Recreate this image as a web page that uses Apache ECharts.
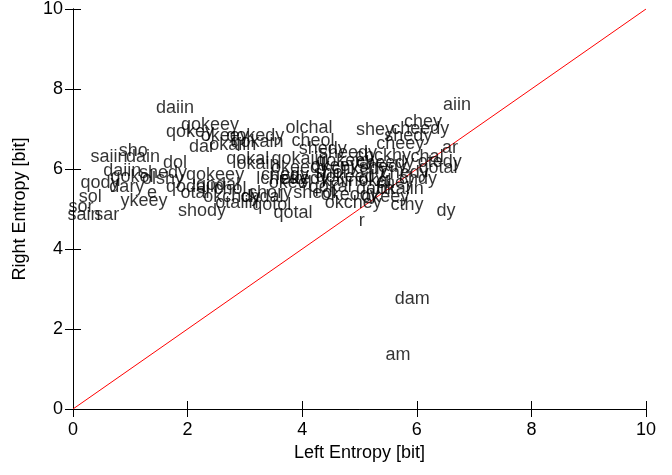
<!DOCTYPE html>
<html>
<head>
<meta charset="utf-8">
<script src="https://cdn.jsdelivr.net/npm/echarts@6/dist/echarts.min.js"></script>
<style>
  html, body { margin: 0; padding: 0; background: #fff; }
  #chart { width: 672px; height: 475px; }
</style>
</head>
<body>
<div id="chart"></div>
<script>
// words and their entropy values (left, right)
var words = ['daiin', 'sho', 'saiin', 'dain', 'dol', 'daiin', 'shedy', 'qokol', 'olshy', 'qody',
  'dary', 'sol', 'e', 'ykeey', 'sor', 'sain', 'sar', 'shody', 'qokeey', 'qokey',
  'okeey', 'qokedy', 'dar', 'okaiin', 'qokain', 'qokal', 'okain', 'qokeey', 'lchedy', 'qodaiin',
  'qodal', 'otal', 'chol', 'okchdy', 'chdal', 'otaiin', 'qotol', 'qotal', 'olchal', 'cheol',
  'shedy', 'sheedy', 'shey', 'qokaiin', 'okeedy', 'chedy', 'okedy', 'okeol', 'sheol', 'chory',
  'kaiin', 'qokeedy', 'okeody', 'okchey', 'chckhy', 'okeey', 'chkedy', 'qokeey', 'shedy', 'cheedy',
  'chedy', 'chdy', 'okaiin', 'okeey', 'daiin', 'cthy', 'dy', 'r', 'chey', 'cheedy',
  'shedy', 'cheey', 'ar', 'chal', 'otedy', 'qotal', 'aiin', 'dam', 'am', 'okal',
  'qokal', 'shol', 'chey', 'ol'];
var leftEntropy = [1.78, 1.05, 0.63, 1.22, 1.78, 0.86, 1.57, 1.03, 1.57, 0.47,
  0.94, 0.30, 1.38, 1.24, 0.14, 0.19, 0.59, 2.25, 2.39, 2.04,
  2.65, 3.18, 2.25, 2.79, 3.21, 3.05, 3.23, 2.48, 3.65, 2.13,
  2.53, 2.13, 2.74, 2.77, 3.30, 2.86, 3.47, 3.84, 4.12, 4.19,
  4.36, 4.80, 5.27, 3.96, 3.96, 3.70, 4.05, 3.79, 4.22, 3.44,
  4.66, 4.83, 4.83, 4.89, 5.41, 4.57, 5.01, 4.75, 5.41, 5.45,
  5.79, 6.02, 5.71, 5.45, 5.27, 5.83, 6.51, 5.04, 6.11, 6.06,
  5.85, 5.71, 6.58, 6.18, 6.40, 6.37, 6.70, 5.92, 5.67, 5.27,
  4.49, 4.49, 5.62, 5.10];
var rightEntropy = [7.53, 6.46, 6.31, 6.31, 6.16, 5.94, 5.91, 5.79, 5.76, 5.64,
  5.56, 5.31, 5.39, 5.21, 5.06, 4.86, 4.86, 4.96, 7.11, 6.93,
  6.83, 6.83, 6.56, 6.61, 6.68, 6.26, 6.13, 5.84, 5.74, 5.56,
  5.59, 5.41, 5.49, 5.29, 5.31, 5.14, 5.11, 4.89, 7.03, 6.71,
  6.51, 6.41, 6.98, 6.26, 6.03, 5.84, 5.76, 5.66, 5.39, 5.39,
  5.69, 5.81, 5.36, 5.16, 6.33, 6.08, 6.01, 6.20, 6.06, 6.16,
  5.91, 5.76, 5.51, 5.31, 5.51, 5.09, 4.94, 4.71, 7.18, 7.01,
  6.83, 6.63, 6.53, 6.31, 6.18, 6.03, 7.61, 2.74, 1.35, 5.71,
  5.56, 5.91, 5.66, 5.76];
var diagonal = [[0, 0], [10, 10]];
var ticks = [0, 2, 4, 6, 8, 10];

var font = 'Liberation Sans, Arial, sans-serif';
var myChart = echarts.init(document.getElementById('chart'));

var points = [];
words.forEach(function (w, i) {
  points.push({ name: w, value: [leftEntropy[i], rightEntropy[i]] });
});

function axisBase(pos, showLabel) {
  return {
    type: 'value',
    position: pos,
    min: ticks[0],
    max: ticks[ticks.length - 1],
    interval: 2,
    axisLine: { show: true, lineStyle: { color: '#000', width: 1 } },
    axisTick: { show: true, inside: true, length: 8, lineStyle: { color: '#000' } },
    axisLabel: { show: showLabel, color: '#000', fontFamily: font, fontSize: 18 },
    splitLine: { show: false }
  };
}

var xBottom = axisBase('bottom', true);
xBottom.name = 'Left Entropy [bit]';
xBottom.nameLocation = 'middle';
xBottom.nameGap = 31;
xBottom.nameTextStyle = { color: '#000', fontFamily: font, fontSize: 18 };
xBottom.axisLabel.margin = 12;
var xTop = axisBase('top', false);

var yLeft = axisBase('left', true);
yLeft.name = 'Right Entropy [bit]';
yLeft.nameLocation = 'middle';
yLeft.nameGap = 44;
yLeft.nameTextStyle = { color: '#000', fontFamily: font, fontSize: 18 };
yLeft.axisLabel.margin = 10;
var yRight = axisBase('right', false);

var option = {
  animation: false,
  backgroundColor: '#fff',
  grid: { left: 73, right: 26, top: 8, bottom: 66 },
  xAxis: [xBottom, xTop],
  yAxis: [yLeft, yRight],
  series: [
    {
      type: 'line',
      data: diagonal,
      symbol: 'none',
      lineStyle: { color: '#ff0000', width: 1 },
      z: 1
    },
    {
      type: 'scatter',
      data: points,
      symbol: 'circle',
      symbolSize: 0,
      itemStyle: { color: '#000' },
      clip: false,
      label: {
        show: true,
        position: [0, 0],
        align: 'center',
        verticalAlign: 'middle',
        formatter: '{b}',
        color: '#000',
        textBorderWidth: 0,
        fontFamily: font,
        fontSize: 18
      },
      z: 2
    }
  ]
};
myChart.setOption(option);
</script>
</body>
</html>
